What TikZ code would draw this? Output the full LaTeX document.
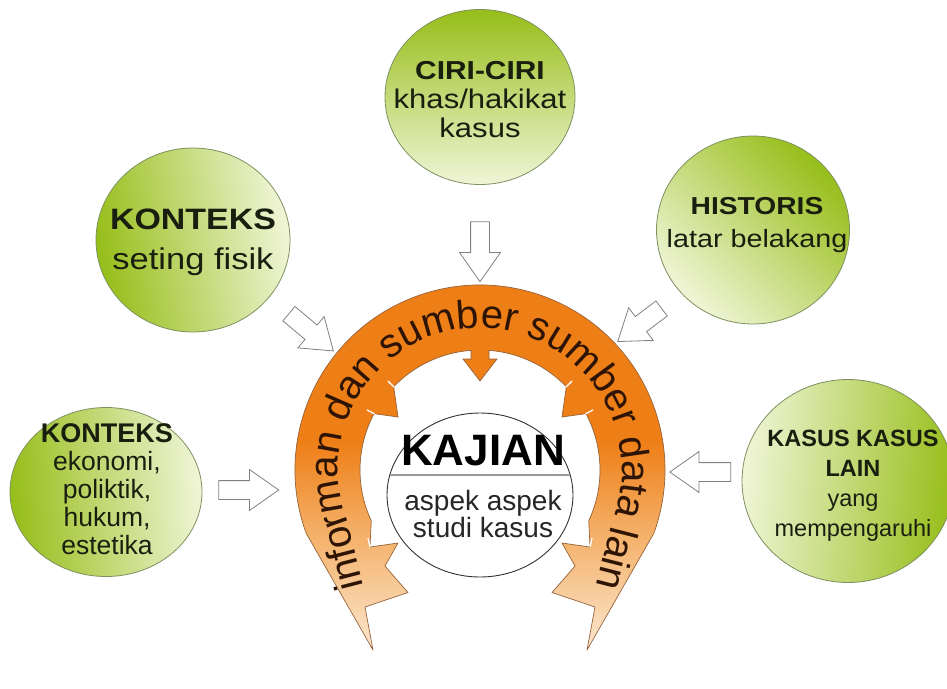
\documentclass[tikz,border=0pt]{standalone}
\usepackage{fontspec}
\setmainfont{Liberation Sans}
\newfontfamily\widefont[FakeStretch=1.15]{Liberation Sans}
\usepackage{tikz}
\usetikzlibrary{shapes.geometric, shapes.arrows, decorations.text}

\definecolor{ringorange}{RGB}{238,126,22}
\definecolor{ringmid}{RGB}{244,176,104}
\definecolor{ringpale}{RGB}{252,232,208}
\definecolor{ringline}{RGB}{150,100,60}
\definecolor{ringtext}{RGB}{45,20,5}
\definecolor{bubblegreen}{RGB}{150,190,25}
\definecolor{bubblepale}{RGB}{240,245,215}
\definecolor{bubbleline}{RGB}{125,145,95}
\definecolor{bubbletext}{RGB}{25,30,15}
\definecolor{arrowline}{RGB}{128,128,128}

\pgfdeclareverticalshading{ringfade}{100bp}{color(0bp)=(ringpale); color(25bp)=(ringpale); color(40bp)=(ringmid); color(52bp)=(ringorange); color(100bp)=(ringorange)}

\newcommand\ringfont{\fontsize{40}{42}\selectfont}

\begin{document}
\begin{tikzpicture}[x=1pt, y=1pt,
    bubble/.style={ellipse, draw=bubbleline, line width=0.8pt, top color=bubblegreen, bottom color=bubblepale, inner sep=0pt},
    bubtext/.style={align=center, text=bubbletext, inner sep=0pt},
    hollow/.style={single arrow, draw=arrowline, fill=white, line width=0.8pt, inner xsep=0pt, inner ysep=9pt, single arrow head extend=11pt, single arrow tip angle=70},
    slit/.style={white, line width=1.3pt}]
    \useasboundingbox (0,0) rectangle (947,-688);
    % orange band round the centre
    \begin{scope}[shift={(480,-470)}]
    \path[shade, shading=ringfade, draw=ringline, line width=0.7pt, line join=round]
      (-107,-180) -- (200:185) arc[start angle=200, end angle=-20, radius=185]
      -- (107,-180) -- (115,-137) -- (72,-122.5) -- (95,-96) -- (82,-73) -- (110,-77)
      -- (-25:120) arc[start angle=-25, end angle=28, radius=120]
      -- (82,53) -- (44:120) arc[start angle=44, end angle=85.7, radius=120]
      -- (9,111) -- (17,111) -- (0,89) -- (-17,111) -- (-9,111)
      -- (94.3:120) arc[start angle=94.3, end angle=136, radius=120]
      -- (-82,53) -- (152:120) arc[start angle=152, end angle=205, radius=120]
      -- (-110,-77) -- (-82,-73) -- (-95,-96) -- (-72,-122.5) -- (-115,-137) -- cycle;
    % thin gaps where the heads meet the band
    \foreach \a in {136,152,28,44} {
      \draw[slit] (\a:119.5) -- (\a:128);
    }
    \draw[slit] (-110,-77) -- (-112,-68);
    \draw[slit] (110,-77) -- (112,-68);
    \path[decorate, decoration={text along path, text align=center,
        text={|\ringfont\color{ringtext}|informan dan sumber sumber data lain}}]
      (-110,-140) -- (200:142) arc[start angle=200, end angle=-20, radius=142] -- (110,-140);
    \end{scope}

    % centre
    \node[ellipse, draw=black!80, line width=0.9pt, fill=white, minimum width=186, minimum height=164, inner sep=0pt] (kaj) at (480,-495) {};
    \draw[gray!80, line width=1.4pt] ([xshift=3pt,yshift=20pt]kaj.west) -- ([xshift=-3pt,yshift=20pt]kaj.east);
    \node[font=\bfseries\fontsize{44}{44}\selectfont, anchor=base, inner sep=0pt] (kajtitle) at (483,-465) {KAJIAN};
    \node[bubtext, text=black!85, font=\fontsize{28}{25}\selectfont] (kajsub) at (483,-514.3) {aspek aspek\\studi kasus};

    % bubbles
    \node[bubble, minimum width=190, minimum height=175] (ciri) at (480,-97) {};
    \node[bubble, minimum width=194, minimum height=184, shading angle=100] (fisik) at (193,-240) {};
    \node[bubble, minimum width=193, minimum height=188, shading angle=-45] (hist) at (753,-230) {};
    \node[bubble, minimum width=192, minimum height=169, shading angle=95] (eko) at (106,-492) {};
    \node[bubble, minimum width=212, minimum height=203, shading angle=-95] (kasus) at (848,-481) {};

    \node[bubtext, font=\widefont\fontsize{27}{29}\selectfont] (ciri-t) at (480,-99.7)
      {{\bfseries\fontsize{26}{29}\selectfont CIRI-CIRI}\\khas/hakikat\\kasus};
    \node[bubtext, font=\widefont\fontsize{30}{40}\selectfont] (fisik-t) at (193,-242)
      {{\bfseries\fontsize{29.5}{40}\selectfont KONTEKS}\\seting fisik};
    \node[bubtext, font=\widefont\fontsize{25}{33}\selectfont] (hist-t) at (757,-225.2)
      {{\bfseries\fontsize{24.5}{33}\selectfont HISTORIS}\\latar belakang};
    \node[bubtext, font=\fontsize{26.5}{28}\selectfont] (eko-t) at (107,-489.2)
      {{\bfseries\fontsize{27}{28}\selectfont KONTEKS}\\ekonomi,\\poliktik,\\hukum,\\estetika};
    \node[bubtext, font=\fontsize{23.5}{30}\selectfont] (kasus-t) at (853,-485.9)
      {{\bfseries KASUS KASUS}\\{\bfseries LAIN}\\yang\\mempengaruhi};

    % hollow arrows into the band
    \node[hollow, minimum height=60, rotate=-90] (a-ciri) at (480,-245) {};
    \node[hollow, minimum height=58, rotate=-40] (a-fisik) at (306,-328) {};
    \node[hollow, minimum height=55, rotate=217] (a-hist) at (645,-321) {};
    \node[hollow, minimum height=60] (a-eko) at (242,-490) {};
    \node[hollow, minimum height=61, rotate=180] (a-kasus) at (707,-472) {};
\end{tikzpicture}
\end{document}
